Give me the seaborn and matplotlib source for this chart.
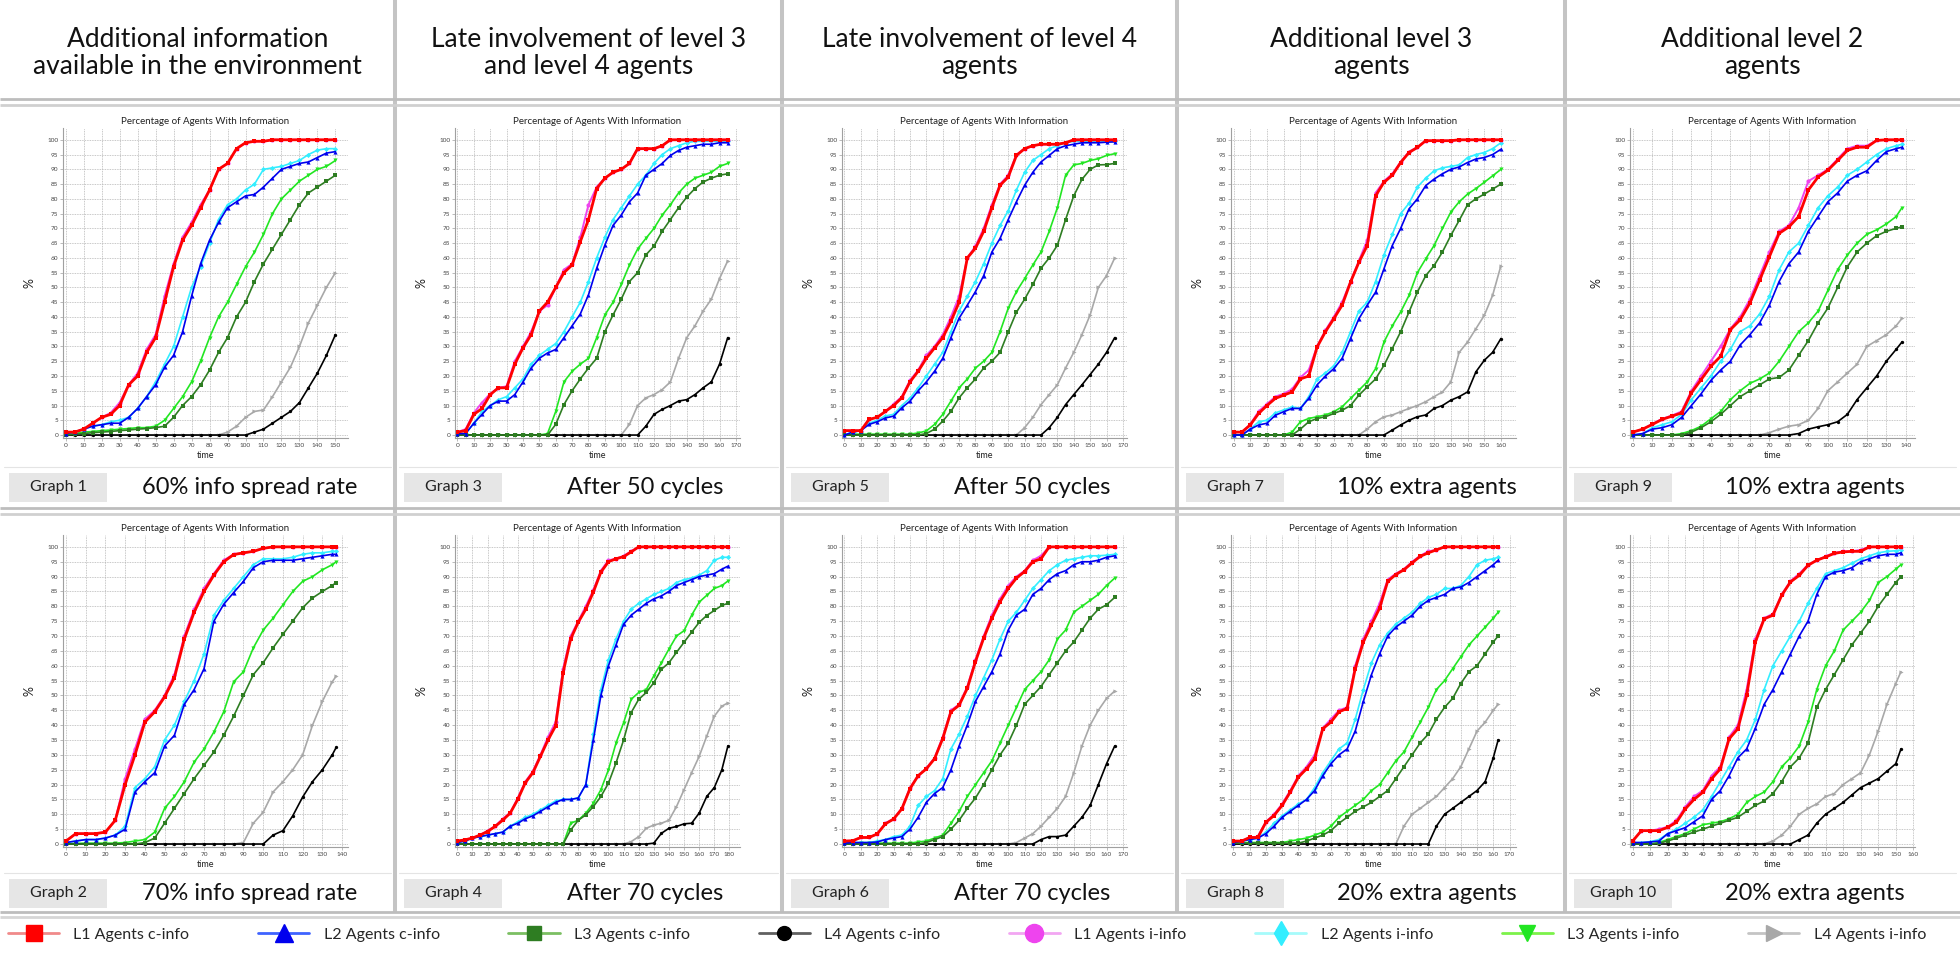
import matplotlib
matplotlib.use("Agg")
import numpy as np
import matplotlib.pyplot as plt
import seaborn as sns
from matplotlib.lines import Line2D
from matplotlib.patches import Rectangle

# ==========================
# DATA (% of agents with information)
# ==========================
g1_time = list(range(0, 151, 5))
g1_l1c = [1, 1, 2, 4, 6, 7, 10, 17, 20, 28, 33, 45, 57, 66, 71, 77, 83, 90, 92, 97, 99, 99.5, 99.5, 100, 100, 100, 100, 100, 100, 100, 100]
g1_l1i = [1, 1, 2, 4, 6, 7.5, 11, 17, 21, 29, 34, 47, 58, 67, 72, 78, 83, 90, 92, 97, 99, 99.5, 99.5, 100, 100, 100, 100, 100, 100, 100, 100]
g1_l2c = [0.5, 1, 2, 3, 3.5, 4, 4, 6, 9, 13, 17, 23, 27, 35, 47, 58, 66, 72, 77, 79, 81, 81.5, 84, 87, 90, 91, 92, 92.5, 94, 95.5, 96]
g1_l2i = [0.5, 1, 2, 3, 3.5, 4.5, 5, 6, 9, 13, 18, 24, 30, 40, 50, 57, 65, 73, 78, 80, 83, 85, 90, 90.5, 91, 92, 93, 95, 96.5, 97, 97]
g1_l3c = [0, 0.3, 0.5, 0.8, 1, 1.2, 1.5, 1.7, 2, 2.2, 2.5, 3, 6, 10, 13, 17, 22, 28, 33, 40, 45, 52, 58, 63, 68, 73, 78, 82, 84, 86, 88]
g1_l3i = [0, 0.5, 1, 1.2, 1.5, 1.7, 2, 2.2, 2.5, 2.5, 3, 5, 9, 13, 18, 25, 33, 40, 45, 51, 57, 62, 68, 75, 80, 83, 86, 88, 90, 91, 93]
g1_l4c = [0, 0, 0, 0, 0, 0, 0, 0, 0, 0, 0, 0, 0, 0, 0, 0, 0, 0, 0, 0, 0, 1, 2, 4, 6, 8, 11, 16, 21, 27, 34]
g1_l4i = [0, 0, 0, 0, 0, 0, 0, 0, 0, 0, 0, 0, 0, 0, 0, 0, 0, 0, 1, 3, 6, 8, 8.5, 13, 18, 23, 30, 38, 44, 50, 55]

g2_time = list(range(0, 136, 5)) + [137]
g2_l1c = [1, 3.5, 3.5, 3.5, 4, 8, 20, 30, 41, 44.5, 49.5, 56, 69, 78, 85, 90.5, 95, 97.4, 98, 98.5, 99.5, 100, 100, 100, 100, 100, 100, 100, 100]
g2_l1i = [1, 3.5, 3.5, 3.5, 4, 8, 22, 32, 42, 45, 50, 57, 70, 79, 86, 91, 95.5, 97.5, 98, 98.5, 99.5, 100, 100, 100, 100, 100, 100, 100, 100]
g2_l2c = [0.5, 1, 1.5, 1.5, 2, 3, 5, 17.5, 21, 24, 33, 36.6, 47, 52, 59, 75, 80.7, 84.6, 88.4, 93, 95, 95.5, 95.5, 95.5, 96, 96.5, 97, 97.5, 97.5]
g2_l2i = [0.5, 1, 1.5, 1.5, 2, 3, 6, 19, 22, 26, 35, 40, 48, 55, 64, 77, 82, 86, 90, 94, 96, 96, 96, 96.5, 97.5, 98, 98, 98.5, 98.5]
g2_l3c = [0, 0, 0, 0, 0, 0, 0, 0, 0.5, 2, 7, 12, 17, 22, 26.5, 31, 36.6, 43, 50, 57, 61, 66, 70.6, 75, 79.5, 82.8, 85, 87, 88]
g2_l3i = [0, 0.2, 0.3, 0.3, 0.3, 0.3, 0.5, 1, 1.5, 4, 12, 16, 21, 27.6, 32, 37.7, 44.5, 54.6, 58, 66, 72, 76, 80.5, 85, 88.4, 90, 92.3, 94, 95]
g2_l4c = [0, 0, 0, 0, 0, 0, 0, 0, 0, 0, 0, 0, 0, 0, 0, 0, 0, 0, 0, 0, 0, 3, 4.5, 9.5, 15.8, 21, 25, 30, 32.5]
g2_l4i = [0, 0, 0, 0, 0, 0, 0, 0, 0, 0, 0, 0, 0, 0, 0, 0, 0, 0, 0.5, 7, 10.7, 17.5, 21, 25, 30, 40, 48, 54.6, 56.5]

g3_time = list(range(0, 166, 5))
g3_l1c = [1, 1.5, 7, 9, 13.7, 16, 16, 24, 29.5, 34, 42, 45, 50, 55, 57.6, 65.5, 73, 83.5, 87, 89, 90, 92, 97, 97, 97, 98, 100, 100, 100, 100, 100, 100, 100, 100]
g3_l1i = [1, 2, 7.5, 11, 14, 16, 16.5, 25, 30, 35, 42, 44, 50, 56, 58, 67, 78, 84, 87, 89, 90, 92, 97, 97, 97, 98, 100, 100, 100, 100, 100, 100, 100, 100]
g3_l2c = [0.5, 0.5, 4, 7, 10, 11.5, 11.5, 13.7, 18, 22.7, 26, 27.8, 29, 33, 37, 41, 47.5, 56.5, 64.3, 71, 74.5, 79, 82, 88, 90, 92, 94.7, 96.4, 97.5, 98, 98.5, 98.5, 99, 99]
g3_l2i = [0.5, 0.5, 4, 8, 10, 12, 13, 16, 19, 24, 27, 29, 31, 35, 40, 45, 52, 60, 67, 73, 77, 81, 85, 88, 92, 95, 97, 98, 99, 99.5, 99.5, 99.5, 99.5, 99.5]
g3_l3c = [0, 0, 0, 0, 0, 0, 0, 0, 0, 0, 0, 0, 3.6, 10.3, 15, 19, 22.7, 26, 35, 40.7, 46, 52, 55, 61, 64, 69, 73, 77, 80.6, 83.5, 85.7, 87, 88, 88.5]
g3_l3i = [0, 0, 0, 0, 0, 0, 0, 0, 0, 0, 0, 0.5, 8, 18, 21.6, 24, 26, 33, 40.7, 45, 51, 57.6, 63, 66.6, 70, 74.5, 78, 82, 85, 87, 88, 89, 91, 92]
g3_l4c = [0, 0, 0, 0, 0, 0, 0, 0, 0, 0, 0, 0, 0, 0, 0, 0, 0, 0, 0, 0, 0, 0, 0, 3, 7, 8.7, 10, 11.5, 12, 13.7, 16, 18, 24, 33]
g3_l4i = [0, 0, 0, 0, 0, 0, 0, 0, 0, 0, 0, 0, 0, 0, 0, 0, 0, 0, 0, 0, 0, 3.6, 10, 12.6, 13.7, 15.4, 18, 26, 33, 37, 42, 46, 53, 59]

g4_time = list(range(0, 176, 5)) + [179]
g4_l1c = [1, 1.4, 2, 3, 4.2, 5.9, 8, 10.4, 15, 20.6, 24, 29.5, 35, 39.7, 57.7, 69, 74.6, 79, 84.8, 91.5, 95, 96, 96.7, 98.3, 100, 100, 100, 100, 100, 100, 100, 100, 100, 100, 100, 100, 100]
g4_l1i = [1, 1.5, 2, 3, 4.5, 6, 8.5, 10.5, 15.5, 21, 24.5, 30, 36, 41, 59, 70, 75, 80, 85.5, 92, 95.5, 96, 97, 98.5, 100, 100, 100, 100, 100, 100, 100, 100, 100, 100, 100, 100, 100]
g4_l2c = [0.5, 1, 2, 2.5, 3, 3.5, 4, 6, 7, 8.5, 9.5, 11, 12.5, 14, 15, 15, 15.5, 20, 35, 50, 60, 67, 74, 77, 79, 81, 82.5, 83.5, 85, 87, 88, 89, 90, 90.5, 91, 92.5, 93.5]
g4_l2i = [0.5, 1, 2, 2.5, 3, 3.5, 4, 6, 7.5, 9, 10, 11.5, 13, 14.5, 15, 15, 15.5, 20, 37, 52, 62, 69, 75, 79, 81, 82.5, 84, 85, 86, 88, 89, 89.5, 90.5, 92, 95.5, 96.5, 96.5]
g4_l3c = [0, 0, 0, 0, 0, 0, 0, 0, 0, 0, 0, 0, 0, 0, 0, 4.7, 8, 9.8, 12.6, 16, 20.5, 27.3, 35, 44.2, 48.7, 51, 54.3, 58.8, 61, 64.5, 67.9, 71.3, 74.6, 76.9, 78.6, 80.3, 81]
g4_l3i = [0, 0, 0, 0, 0, 0, 0, 0, 0, 0, 0, 0, 0, 0, 0, 7, 8, 10.4, 13.7, 18.3, 25, 34, 40.8, 48.7, 51, 52, 56.6, 61, 65.6, 70, 71.8, 77, 81.4, 83.7, 86, 87, 88.5]
g4_l4c = [0, 0, 0, 0, 0, 0, 0, 0, 0, 0, 0, 0, 0, 0, 0, 0, 0, 0, 0, 0, 0, 0, 0, 0, 0, 0, 0.3, 3.6, 5.3, 5.9, 6.8, 7, 10.4, 16, 19, 25, 33]
g4_l4i = [0, 0, 0, 0, 0, 0, 0, 0, 0, 0, 0, 0, 0, 0, 0, 0, 0, 0, 0, 0, 0, 0, 0, 0.8, 2.5, 5.3, 6.4, 7, 8, 12.6, 18.3, 24, 29.5, 36.3, 43, 46.4, 47.5]

g5_time = list(range(0, 166, 5))
g5_l1c = [1.5, 1.5, 1.5, 5.3, 6, 8, 10, 12.6, 18, 21.6, 26, 29.5, 33, 38.5, 45, 60, 63.3, 69, 77, 84.6, 87.4, 94.7, 97, 98, 98.5, 98.5, 98.5, 99, 100, 100, 100, 100, 100, 100]
g5_l1i = [1.5, 1.5, 1.5, 5.3, 6, 8, 10.5, 13, 18.5, 22, 27, 30, 34, 40, 47, 60, 64, 70, 78, 85, 88, 95, 97, 98, 98.5, 98.5, 98.5, 99, 100, 100, 100, 100, 100, 100]
g5_l2c = [0, 1, 1.5, 3.6, 4.5, 5.8, 6.4, 9.2, 11.5, 15, 18, 21.6, 26, 33, 39.6, 44, 48.6, 54, 62, 66.6, 73, 79, 84.6, 89, 92.5, 94.7, 97, 98, 98.5, 99, 99, 99, 99.2, 99.3]
g5_l2i = [0, 1, 1.5, 4, 5, 6.5, 7, 10, 12.5, 16, 20, 24, 28, 35, 42, 47, 52, 58, 65, 71, 76, 83, 89, 93, 95, 97, 98, 99, 99.5, 99.5, 99.5, 99.5, 99.5, 99.5]
g5_l3c = [0, 0, 0, 0, 0, 0, 0, 0, 0, 0, 0.5, 2, 4.7, 8, 12.6, 16, 19, 22.7, 25, 28, 35, 41.6, 46, 51, 56.5, 60, 64.3, 73, 81, 86.6, 90, 91.5, 91.6, 92]
g5_l3i = [0, 0.3, 0.3, 0.3, 0.3, 0.3, 0.3, 0.3, 0.3, 0.7, 1.4, 3.6, 7, 11.5, 16, 19, 22.7, 25, 28, 35, 43, 48.6, 53, 57.6, 62, 69, 77, 88, 91.5, 92, 93, 93.6, 94.7, 95.3]
g5_l4c = [0, 0, 0, 0, 0, 0, 0, 0, 0, 0, 0, 0, 0, 0, 0, 0, 0, 0, 0, 0, 0, 0, 0, 0, 0, 2.5, 6, 10.3, 13.7, 17, 20.5, 24, 28, 33]
g5_l4i = [0, 0, 0, 0, 0, 0, 0, 0, 0, 0, 0, 0, 0, 0, 0, 0, 0, 0, 0, 0, 0, 0, 2.5, 6, 10.3, 13.7, 17, 22.7, 28, 34, 40.7, 50, 54, 60]

g6_time = list(range(0, 166, 5))
g6_l1c = [1, 1.1, 2.2, 2.2, 3.4, 6.8, 8.4, 11.8, 18.6, 23, 25.3, 28.7, 35.5, 44.5, 46.7, 52.4, 61.4, 69.3, 76, 81.6, 86, 89.5, 91.7, 95, 96, 100, 100, 100, 100, 100, 100, 100, 100, 100]
g6_l1i = [1, 1.1, 2.2, 2.2, 3.4, 7, 8.5, 12, 19, 23, 25.5, 29, 36, 45, 47, 53, 62, 70, 77, 82.5, 87, 90, 92, 95.5, 97, 100, 100, 100, 100, 100, 100, 100, 100, 100]
g6_l2c = [0.3, 0.5, 0.5, 0.5, 0.7, 1.5, 2, 2.5, 5, 9, 14, 17, 19, 25, 33, 40, 48, 53, 58, 64, 72, 77, 79, 84, 86, 89, 91, 92, 94, 95, 95, 95.5, 96.5, 97]
g6_l2i = [0.3, 0.5, 0.5, 0.5, 1, 1.5, 2.5, 3, 6, 13, 16, 18, 22, 32, 37, 43, 50, 56, 62, 69, 75, 78, 82, 86, 89, 92, 94, 95.5, 96, 96.5, 97, 97, 97.2, 97.5]
g6_l3c = [0, 0, 0, 0, 0, 0, 0, 0, 0, 0, 0.5, 1.5, 2.5, 5, 8, 12, 15.5, 20, 25, 30, 34, 40, 47, 50, 53, 57, 61, 65, 68, 72, 76, 79, 80.5, 83]
g6_l3i = [0, 0.3, 0.3, 0.3, 0.3, 0.3, 0.3, 0.3, 0.3, 0.7, 1, 2, 3, 7, 11, 16, 20, 24, 28, 34, 40, 46, 52, 55, 58, 62, 69, 72, 78, 80, 82, 84, 87, 89.5]
g6_l4c = [0, 0, 0, 0, 0, 0, 0, 0, 0, 0, 0, 0, 0, 0, 0, 0, 0, 0, 0, 0, 0, 0, 0, 0, 1.5, 2.5, 2.5, 3, 6, 9, 13, 20, 27, 33]
g6_l4i = [0, 0, 0, 0, 0, 0, 0, 0, 0, 0, 0, 0, 0, 0, 0, 0, 0, 0, 0, 0, 0, 0.5, 2, 3.5, 6, 9, 12, 16, 24, 33, 40, 45, 49, 51.5]

g7_time = list(range(0, 161, 5))
g7_l1c = [1, 1, 3.4, 7.3, 10, 12.4, 13.5, 14.6, 19, 20, 29.8, 35, 39.4, 44, 51.8, 58.5, 64.2, 81, 85.6, 88, 92.3, 95.7, 97.4, 99.7, 99.7, 99.7, 99.7, 100, 100, 100, 100, 100, 100]
g7_l1i = [1, 1, 3.6, 8, 10.5, 13, 14, 15.5, 19.5, 22, 30, 35.5, 40, 45, 52, 59, 66, 82, 86, 88.5, 92.5, 96, 97.5, 99.7, 99.7, 99.7, 99.7, 100, 100, 100, 100, 100, 100]
g7_l2c = [0, 0, 2, 3.4, 4, 6.7, 7.9, 9, 9, 12.4, 17, 20, 22.5, 26, 32.7, 39.4, 44, 48.4, 56.3, 64.2, 70, 76.6, 80, 84.5, 86.7, 88.5, 90, 90.8, 92.3, 93.5, 94, 95, 96.8]
g7_l2i = [0, 0, 2, 4.5, 5, 7.5, 8.5, 9.5, 9, 13, 19, 21, 23.5, 28, 35, 42, 45, 52, 61, 68, 75, 78.5, 84, 87, 89.5, 90.5, 91, 91.5, 94, 95, 95.7, 97, 99]
g7_l3c = [0, 0, 0, 0, 0, 0, 0, 0, 2, 4.5, 5.6, 6.2, 7.3, 8.4, 10, 13.5, 16.3, 19, 23.6, 29.3, 35, 41.7, 48.4, 54, 57.4, 62, 67.6, 72.7, 78, 80, 81.6, 83.3, 85]
g7_l3i = [0, 0, 0, 0, 0, 0, 0, 1, 4.5, 5.6, 6.2, 6.8, 7.9, 9.6, 12.4, 15.2, 18, 22.5, 31.5, 37, 41.7, 47.3, 55, 59.7, 64.2, 70, 75.5, 79, 81.6, 83.5, 85.6, 87.8, 90]
g7_l4c = [0, 0, 0, 0, 0, 0, 0, 0, 0, 0, 0, 0, 0, 0, 0, 0, 0, 0, 0, 1.7, 3.4, 5, 6.2, 6.8, 9, 10, 11.8, 13, 14.6, 21.4, 25.3, 28, 32.7]
g7_l4i = [0, 0, 0, 0, 0, 0, 0, 0, 0, 0, 0, 0, 0, 0, 0, 0, 2, 4.5, 6.2, 6.8, 7.9, 9, 10, 11.3, 13, 14.6, 18, 28, 31.5, 36, 40.5, 47.3, 57.4]

g8_time = list(range(0, 161, 5)) + [163]
g8_l1c = [1, 1, 2.2, 2.2, 7.3, 9.6, 13, 17.5, 22.5, 25.3, 28.7, 38.8, 41, 44.5, 45.6, 59, 68, 73.8, 79.4, 88.4, 90.7, 92.3, 94.6, 96.8, 98, 99, 100, 100, 100, 100, 100, 100, 100, 100]
g8_l1i = [1, 1, 2.2, 2.5, 7.5, 10, 13.5, 18, 23, 26, 30, 39, 42, 45, 46, 60, 69, 75, 81, 89, 91, 92.5, 95, 97, 98.5, 99, 100, 100, 100, 100, 100, 100, 100, 100]
g8_l2c = [0.5, 1, 1.5, 2, 3.5, 6, 9, 11, 13, 15, 18, 23, 27, 30, 32, 38, 48, 57, 64, 70, 73, 75, 77, 80, 82, 83, 84, 86, 86.5, 88, 90, 92, 94, 95.5]
g8_l2i = [0.5, 1, 1.5, 2, 4, 7, 9.5, 11.5, 13.5, 15, 19, 24, 28, 32, 34, 42, 52, 61, 67, 71, 74, 76, 78, 81, 83, 84, 86, 86, 87, 90, 94, 95.5, 96, 96.5]
g8_l3c = [0.3, 0.3, 0.3, 0.3, 0.3, 0.3, 0.3, 0.3, 0.3, 1, 2, 3, 4.5, 7, 9, 11, 12.5, 14, 16, 18, 22, 26, 30, 34, 37, 42, 46, 49, 54, 58, 60, 64, 68, 70]
g8_l3i = [0.5, 0.5, 0.5, 0.5, 0.5, 0.5, 0.5, 1, 1.5, 2, 3, 4, 6, 9, 11, 13, 15, 18, 20, 24, 28, 31, 36, 41, 46, 52, 55, 59, 63, 67, 70, 73, 76, 78]
g8_l4c = [0, 0, 0, 0, 0, 0, 0, 0, 0, 0, 0, 0, 0, 0, 0, 0, 0, 0, 0, 0, 0, 0, 0, 0, 0, 6, 10, 12, 14, 16, 18, 21, 29, 35]
g8_l4i = [0, 0, 0, 0, 0, 0, 0, 0, 0, 0, 0, 0, 0, 0, 0, 0, 0, 0, 0, 0, 0, 6, 10, 12, 14, 16, 19, 22, 26, 32, 38, 41, 45, 47]

g9_time = list(range(0, 136, 5)) + [138]
g9_l1c = [1, 2, 3.6, 5.3, 6.4, 7.5, 14.3, 18.8, 23.3, 26.7, 35.7, 39, 44.7, 52.5, 60.4, 68.3, 70.5, 74, 83, 87.4, 89.7, 93, 96.4, 97.5, 97.5, 99.8, 100, 100, 100]
g9_l1i = [1, 2, 3.8, 5.5, 6.6, 8, 15, 20, 25, 30, 36, 40, 46, 54, 62, 69, 71, 77, 86, 88, 90, 93.5, 97, 98, 98, 99.8, 100, 100, 100]
g9_l2c = [0, 0.5, 2, 2.5, 3.5, 6, 10, 14, 18.5, 22, 25, 30.5, 34, 38, 44, 52, 58, 62, 69, 74, 79, 82, 86, 88, 89.5, 93, 96, 97, 97.5]
g9_l2i = [0, 0.5, 2.5, 3.5, 4.5, 7, 12, 16, 20, 25, 29, 35, 37, 41, 47, 56, 62, 65, 71, 77, 81, 84, 88, 90, 92.5, 95, 97, 98, 98.5]
g9_l3c = [0, 0, 0, 0, 0, 0, 1, 2.5, 4.5, 7, 10, 13, 15, 17, 19, 19.5, 22, 27, 32, 38, 43, 50, 57, 62, 65, 67.5, 69, 70, 70.5]
g9_l3i = [0, 0, 0, 0, 0, 0.5, 1.5, 3, 5.5, 8, 12, 15, 17.5, 19, 21, 25, 30, 35, 38, 42, 49, 56, 61, 65, 68, 69.5, 71.5, 74, 77]
g9_l4c = [0, 0, 0, 0, 0, 0, 0, 0, 0, 0, 0, 0, 0, 0, 0, 0, 0, 0.5, 2, 2.8, 3.5, 4.5, 7, 12, 16, 20, 25, 29, 31.5]
g9_l4i = [0, 0, 0, 0, 0, 0, 0, 0, 0, 0, 0, 0, 0, 0, 0.8, 2, 3, 3.5, 5, 9, 15, 18, 21, 24, 30, 32, 34, 37, 39.5]

g10_time = list(range(0, 151, 5)) + [153]
g10_l1c = [1, 4.5, 4.5, 4.5, 5.6, 7.3, 11.8, 15, 17.4, 21.9, 25.3, 35.4, 38.8, 50, 68, 75.8, 77, 83.7, 88.2, 90.4, 93.8, 95.5, 96.6, 97.8, 98.3, 98.5, 98.5, 100, 100, 100, 100, 100]
g10_l1i = [1, 4.5, 4.5, 5, 5.8, 8, 12.5, 16, 18, 23, 26, 36, 40, 52, 69, 76, 77.5, 84, 88.5, 91, 94, 95.5, 96.8, 98, 98.5, 98.5, 99, 100, 100, 100, 100, 100]
g10_l2c = [0.5, 0.5, 0.7, 1, 3.5, 4.5, 5.5, 7.5, 9.5, 15, 18, 23, 29, 32, 39, 47, 52, 58, 64, 70, 75, 84, 90, 91.5, 92, 93, 95, 96, 97, 97.5, 97.5, 98]
g10_l2i = [0.5, 0.5, 0.8, 1.5, 3.5, 5, 7, 9, 11.5, 16, 21, 26, 31, 35, 42, 52, 60, 65, 70, 75, 81, 86, 91, 92, 93, 94.5, 96, 97, 98, 98.5, 98.7, 99]
g10_l3c = [0, 0, 0, 0.3, 1, 2, 3, 4, 5, 6, 7, 8, 9, 11, 13, 14.5, 17, 21, 26, 29, 34, 46, 52, 57, 62, 67, 71, 75, 80, 84, 88, 90]
g10_l3i = [0, 0, 0, 0.5, 1.5, 2.5, 3.5, 5, 6.5, 7, 7.5, 8.5, 10, 14, 16, 17.5, 21, 26, 29, 33, 41, 52, 60, 65, 72, 75, 78, 82, 88, 90, 92.5, 94]
g10_l4c = [0, 0, 0, 0, 0, 0, 0, 0, 0, 0, 0, 0, 0, 0, 0, 0, 0, 0, 0, 1.5, 3, 7, 10, 12, 14, 16.5, 19, 20.5, 22, 24.5, 27, 32]
g10_l4i = [0, 0, 0, 0, 0, 0, 0, 0, 0, 0, 0, 0, 0, 0, 0, 0, 1, 3, 6, 10, 12, 13.5, 16, 17, 20, 22, 24, 30, 38, 47, 54, 58]

HEADERS = ["Additional information\navailable in the environment",
           "Late involvement of level 3\nand level 4 agents",
           "Late involvement of level 4\nagents",
           "Additional level 3\nagents",
           "Additional level 2\nagents"]
CAPTIONS_TOP = ["60% info spread rate", "After 50 cycles", "After 50 cycles", "10% extra agents", "10% extra agents"]
CAPTIONS_BOT = ["70% info spread rate", "After 70 cycles", "After 70 cycles", "20% extra agents", "20% extra agents"]
GRAPH_NUM_TOP = [1, 3, 5, 7, 9]
GRAPH_NUM_BOT = [2, 4, 6, 8, 10]
XTICK_MAX_TOP = [150, 170, 170, 160, 140]
XTICK_MAX_BOT = [140, 180, 170, 170, 160]

SERIES = ["L1 Agents c-info", "L2 Agents c-info", "L3 Agents c-info", "L4 Agents c-info",
          "L1 Agents i-info", "L2 Agents i-info", "L3 Agents i-info", "L4 Agents i-info"]

# ==========================
# STYLE / LAYOUT
# ==========================
STYLE = {
    "L1 Agents c-info": dict(color="#ff0000", marker="s", lw=2.0, ms=3.2, leg="#f08a8a", lms=12),
    "L2 Agents c-info": dict(color="#0000ee", marker="^", lw=1.2, ms=3.0, leg="#3f63ff", lms=13),
    "L3 Agents c-info": dict(color="#2e7d22", marker="s", lw=1.2, ms=2.6, leg="#7bbf62", lms=10),
    "L4 Agents c-info": dict(color="#000000", marker="o", lw=1.2, ms=2.4, leg="#606060", lms=10),
    "L1 Agents i-info": dict(color="#ee44ee", marker="o", lw=1.4, ms=3.0, leg="#f2a6f2", lms=13),
    "L2 Agents i-info": dict(color="#33eeff", marker="D", lw=1.2, ms=2.6, leg="#a6fbfb", lms=12),
    "L3 Agents i-info": dict(color="#22e622", marker="v", lw=1.2, ms=3.0, leg="#7cf24a", lms=12),
    "L4 Agents i-info": dict(color="#a8a8a8", marker=">", lw=1.2, ms=3.0, leg="#c4c4c4", lms=12),
}
LEG_MARKER = {"L1 Agents c-info": "s", "L2 Agents c-info": "^", "L3 Agents c-info": "s",
              "L4 Agents c-info": "o", "L1 Agents i-info": "o", "L2 Agents i-info": "d",
              "L3 Agents i-info": "v", "L4 Agents i-info": ">"}
DRAW_ORDER = ["L4 Agents i-info", "L3 Agents i-info", "L2 Agents i-info", "L1 Agents i-info",
              "L4 Agents c-info", "L3 Agents c-info", "L2 Agents c-info", "L1 Agents c-info"]

W, H = 1960, 958
COL_EDGES = [0, 395, 782, 1177, 1565, 1960]
AX_LEFT = [63, 455, 842, 1231, 1630]
AX_W = 285
XLIM_TOP = [157, 172.5, 172.5, 169, 144.7]
XLIM_BOT = [143, 187, 172.5, 174, 161]
ROW_TOP = [(128, 438), (535, 847)]
LABEL_ROW_Y = [487, 893]
GRID_C = "#c4c4c4"

sns.set_theme(style="white")
plt.rcParams["font.family"] = ["Lato", "DejaVu Sans"]


def fig_rect(left, top, width, height):
    return [left / W, 1 - (top + height) / H, width / W, height / H]


def draw_graph(ax, time, series, xmax, xr):
    for name in DRAW_ORDER:
        st = STYLE[name]
        sns.lineplot(x=time, y=series[name], ax=ax, color=st["color"], marker=st["marker"],
                     lw=st["lw"], markersize=st["ms"], markeredgewidth=0, errorbar=None,
                     legend=False)
    ax.set_xlim(-1.5, xr)
    ax.set_ylim(-1, 104)
    ax.set_xticks(np.arange(0, xmax + 1, 10))
    ax.set_yticks(np.arange(0, 101, 5))
    ax.grid(True, ls=(0, (1, 1)), color="#b5b5b5", lw=0.6)
    ax.set_axisbelow(True)
    sns.despine(ax=ax)
    for sp in ["left", "bottom"]:
        ax.spines[sp].set_color("#a0a0a0")
        ax.spines[sp].set_linewidth(0.8)
    ax.tick_params(labelsize=4.6, length=2, width=0.5, color="#a0a0a0", pad=1.5,
                   labelcolor="#444444", left=True, bottom=True)
    ax.set_title("Percentage of Agents With Information", fontsize=7, pad=3, color="#222222")
    ax.set_xlabel("time", fontsize=6.5, labelpad=2, color="#222222")
    ax.set_ylabel("%", fontsize=9, labelpad=8, color="#222222")


graphs_top = [
    (g1_time, [g1_l1c, g1_l2c, g1_l3c, g1_l4c, g1_l1i, g1_l2i, g1_l3i, g1_l4i]),
    (g3_time, [g3_l1c, g3_l2c, g3_l3c, g3_l4c, g3_l1i, g3_l2i, g3_l3i, g3_l4i]),
    (g5_time, [g5_l1c, g5_l2c, g5_l3c, g5_l4c, g5_l1i, g5_l2i, g5_l3i, g5_l4i]),
    (g7_time, [g7_l1c, g7_l2c, g7_l3c, g7_l4c, g7_l1i, g7_l2i, g7_l3i, g7_l4i]),
    (g9_time, [g9_l1c, g9_l2c, g9_l3c, g9_l4c, g9_l1i, g9_l2i, g9_l3i, g9_l4i]),
]
graphs_bot = [
    (g2_time, [g2_l1c, g2_l2c, g2_l3c, g2_l4c, g2_l1i, g2_l2i, g2_l3i, g2_l4i]),
    (g4_time, [g4_l1c, g4_l2c, g4_l3c, g4_l4c, g4_l1i, g4_l2i, g4_l3i, g4_l4i]),
    (g6_time, [g6_l1c, g6_l2c, g6_l3c, g6_l4c, g6_l1i, g6_l2i, g6_l3i, g6_l4i]),
    (g8_time, [g8_l1c, g8_l2c, g8_l3c, g8_l4c, g8_l1i, g8_l2i, g8_l3i, g8_l4i]),
    (g10_time, [g10_l1c, g10_l2c, g10_l3c, g10_l4c, g10_l1i, g10_l2i, g10_l3i, g10_l4i]),
]

fig = plt.figure(figsize=(W / 100, H / 100), dpi=100)
fig.patch.set_facecolor("white")

# background layer: table lines, headers, captions
bg = fig.add_axes([0, 0, 1, 1], zorder=-1)
bg.set_xlim(0, W)
bg.set_ylim(H, 0)
bg.axis("off")

for x in COL_EDGES[1:-1]:
    bg.plot([x, x], [0, 913], color=GRID_C, lw=2.9, solid_capstyle="butt")
for y, c in [(98.5, "#bdbdbd"), (105, "#d0d0d0"), (507.5, "#bdbdbd"), (513.5, "#d0d0d0"),
             (911.5, "#bdbdbd"), (917, "#d6d6d6")]:
    bg.plot([0, W], [y, y], color=c, lw=2.0, solid_capstyle="butt")
for y in [467, 873]:
    for i in range(5):
        bg.plot([COL_EDGES[i] + 4, COL_EDGES[i + 1] - 4], [y, y], color="#e4e4e4", lw=0.8)

for i in range(5):
    cx = (COL_EDGES[i] + COL_EDGES[i + 1]) / 2
    bg.text(cx, 53, HEADERS[i], ha="center", va="center", fontsize=19, linespacing=1.12,
            color="#111111")
    for r, (nums, caps) in enumerate([(GRAPH_NUM_TOP, CAPTIONS_TOP), (GRAPH_NUM_BOT, CAPTIONS_BOT)]):
        yc = LABEL_ROW_Y[r]
        x0 = COL_EDGES[i] + 9
        bg.add_patch(Rectangle((x0, yc - 14.5), 98, 29, facecolor="#e6e6e6", edgecolor="none"))
        bg.text(x0 + 49, yc, f"Graph {nums[i]}", ha="center", va="center", fontsize=11.5,
                color="#222222")
        bg.text(COL_EDGES[i] + 250, yc, caps[i], ha="center", va="center", fontsize=17,
                color="#111111")

# the ten graphs
for r, (graphs, xmaxs, xrs) in enumerate([(graphs_top, XTICK_MAX_TOP, XLIM_TOP),
                                          (graphs_bot, XTICK_MAX_BOT, XLIM_BOT)]):
    top, bottom = ROW_TOP[r]
    for i, (time, vals) in enumerate(graphs):
        ax = fig.add_axes(fig_rect(AX_LEFT[i], top, AX_W, bottom - top))
        draw_graph(ax, time, dict(zip(SERIES, vals)), xmaxs[i], xrs[i])

# shared legend
handles = [Line2D([0], [0], color=STYLE[s]["leg"], lw=2, marker=LEG_MARKER[s],
                  markersize=STYLE[s]["lms"], markerfacecolor=STYLE[s]["color"],
                  markeredgecolor=STYLE[s]["color"]) for s in SERIES]
fig.legend(handles, SERIES, loc="center left", bbox_to_anchor=(8 / W, 1 - 935 / H), ncol=8,
           frameon=False, fontsize=11.5, handlelength=3.2, handletextpad=0.9,
           columnspacing=4.3, borderpad=0, borderaxespad=0)

fig.savefig("out.png", dpi=100, facecolor="white")
